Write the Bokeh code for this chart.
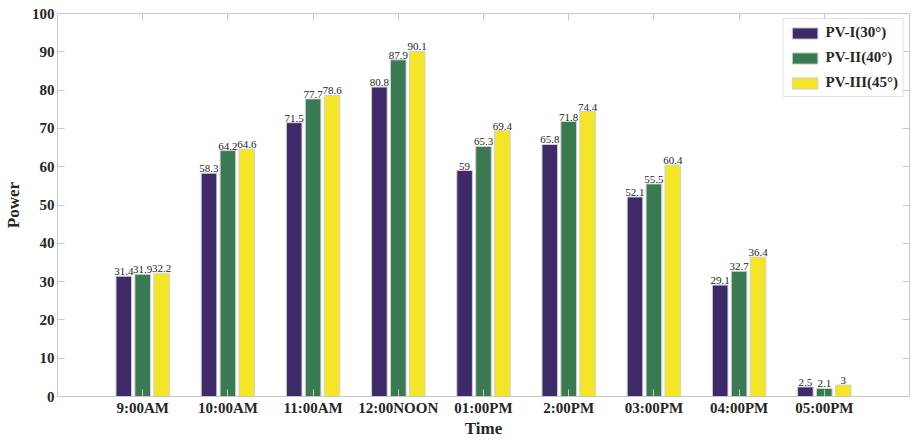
import numpy as np
from bokeh.plotting import figure
from bokeh.models import ColumnDataSource, FixedTicker, LinearAxis, Range1d, Legend, LegendItem
from bokeh.transform import dodge
from bokeh.core.properties import value
from bokeh.embed import file_html
from bokeh.resources import INLINE

categories = ["9:00AM", "10:00AM", "11:00AM", "12:00NOON", "01:00PM", "2:00PM", "03:00PM", "04:00PM", "05:00PM"]
pv1 = [31.4, 58.3, 71.5, 80.8, 59, 65.8, 52.1, 29.1, 2.5]
pv2 = [31.9, 64.2, 77.7, 87.9, 65.3, 71.8, 55.5, 32.7, 2.1]
pv3 = [32.2, 64.6, 78.6, 90.1, 69.4, 74.4, 60.4, 36.4, 3]
series_names = ["PV-I(30°)", "PV-II(40°)", "PV-III(45°)"]
colors = ["#3e2a68", "#3a7a52", "#f4e626"]
y_ticks = list(range(0, 101, 10))

xpos = list(range(1, len(categories) + 1))
src = ColumnDataSource(dict(
    x=xpos, pv1=pv1, pv2=pv2, pv3=pv3,
    l1=["%g" % v for v in pv1], l2=["%g" % v for v in pv2], l3=["%g" % v for v in pv3],
))

FONT = "Liberation Serif"
GREY = "#c8c8c8"
TXT = "#262626"

p = figure(width=911, height=440, output_backend="svg", toolbar_location=None,
           x_range=Range1d(0, len(categories) + 1), y_range=Range1d(0, 100),
           min_border_left=50, min_border_right=2, min_border_top=13, min_border_bottom=38)
p.grid.visible = False
p.outline_line_color = GREY
p.background_fill_color = "white"
p.border_fill_color = "white"

offsets = [-0.222, 0.0, 0.222]
keys = ["pv1", "pv2", "pv3"]
labkeys = ["l1", "l2", "l3"]
renderers = []
for off, k, lk, c in zip(offsets, keys, labkeys, colors):
    r = p.vbar(x=dodge("x", off), top=k, width=0.183, source=src,
               fill_color=c, line_color="#d0d0d0", line_width=1)
    renderers.append(r)
    p.text(x=dodge("x", off), y=k, text=lk, source=src, text_align="center",
           text_baseline="bottom", text_font=value(FONT), text_font_size="11px",
           text_color=TXT, y_offset=-1)

def style_axis(ax):
    ax.axis_line_color = GREY
    ax.major_tick_line_color = GREY
    ax.major_tick_in = 7
    ax.major_tick_out = 0
    ax.minor_tick_line_color = None
    ax.major_label_text_font = FONT
    ax.major_label_text_font_style = "bold"
    ax.major_label_text_color = TXT
    ax.axis_label_text_font = FONT
    ax.axis_label_text_font_style = "bold"
    ax.axis_label_text_color = TXT
    ax.axis_label_text_font_size = "17px"

xticker = FixedTicker(ticks=xpos)
p.xaxis.ticker = xticker
p.xaxis.major_label_overrides = {i: c for i, c in zip(xpos, categories)}
p.xaxis.axis_label = "Time"
style_axis(p.xaxis[0])
p.xaxis.major_label_text_font_size = "15px"
p.xaxis.major_label_standoff = 3
p.xaxis.axis_label_standoff = 0

p.yaxis.ticker = FixedTicker(ticks=y_ticks)
p.yaxis.axis_label = "Power"
style_axis(p.yaxis[0])
p.yaxis.major_label_text_font_size = "15px"
p.yaxis.major_label_standoff = 3
p.yaxis.axis_label_standoff = 6

top_ax = LinearAxis(ticker=FixedTicker(ticks=xpos),
                    major_label_overrides={i: "" for i in xpos})
style_axis(top_ax)
top_ax.major_label_standoff = 0
top_ax.axis_label_standoff = 0
top_ax.major_label_text_font_size = "1px"
p.add_layout(top_ax, "above")
right_ax = LinearAxis(ticker=FixedTicker(ticks=y_ticks),
                      major_label_overrides={t: "" for t in y_ticks})
style_axis(right_ax)
right_ax.major_label_standoff = 0
right_ax.axis_label_standoff = 0
right_ax.major_label_text_font_size = "1px"
p.add_layout(right_ax, "right")

legend = Legend(items=[LegendItem(label=n, renderers=[r]) for n, r in zip(series_names, renderers)],
                location="top_right")
legend.label_text_font = FONT
legend.label_text_font_style = "bold"
legend.label_text_font_size = "15px"
legend.label_text_color = TXT
legend.glyph_width = 32
legend.glyph_height = 14
legend.spacing = 8
legend.padding = 5
legend.margin = 5
legend.label_standoff = 5
legend.border_line_color = GREY
legend.background_fill_alpha = 1
p.add_layout(legend, "center")

open("out.html", "w").write(file_html(p, INLINE))
